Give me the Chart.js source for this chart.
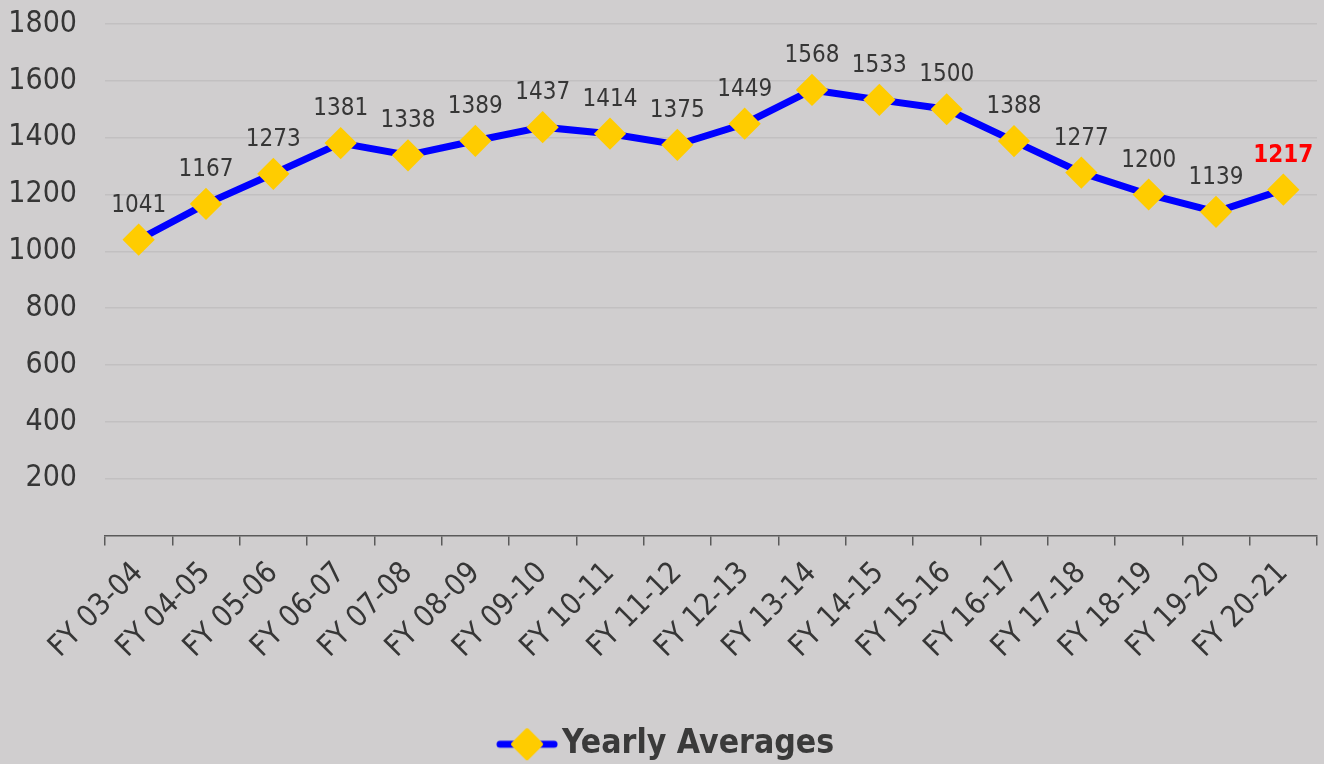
<!DOCTYPE html>
<html>
<head>
<meta charset="utf-8">
<script src="https://cdn.jsdelivr.net/npm/chart.js@4.4.1/dist/chart.umd.min.js"></script>
<style>
  html, body { margin: 0; padding: 0; background: #d0cecf; }
  #wrap { width: 1324px; height: 764px; position: relative; }
</style>
</head>
<body>
<div id="wrap"><canvas id="c" width="1324" height="764"></canvas></div>
<script>
const categories = ["FY 03-04","FY 04-05","FY 05-06","FY 06-07","FY 07-08","FY 08-09","FY 09-10","FY 10-11","FY 11-12","FY 12-13","FY 13-14","FY 14-15","FY 15-16","FY 16-17","FY 17-18","FY 18-19","FY 19-20","FY 20-21"];
const yearlyAverages = [1041,1167,1273,1381,1338,1389,1437,1414,1375,1449,1568,1533,1500,1388,1277,1200,1139,1217];
const seriesName = "Yearly Averages";
const yTicks = [200,400,600,800,1000,1200,1400,1600,1800];

const FONT = "'DejaVu Sans Condensed', 'DejaVu Sans', sans-serif";
const TEXT = '#363636';
const LINE = '#0000ff';
const MARK = '#ffcc00';

// legend marker: line with diamond (drawn right of the image centre)
const legendMark = document.createElement('canvas');
legendMark.width = 88; legendMark.height = 34;
(function(){
  const g = legendMark.getContext('2d');
  const o = 26;
  g.strokeStyle = LINE; g.lineWidth = 7; g.lineCap = 'round';
  g.beginPath(); g.moveTo(o + 4, 17); g.lineTo(o + 58, 17); g.stroke();
  g.fillStyle = MARK; g.strokeStyle = MARK; g.lineJoin = 'round'; g.lineWidth = 4;
  g.beginPath(); g.moveTo(o + 31, 3); g.lineTo(o + 45, 17); g.lineTo(o + 31, 31); g.lineTo(o + 17, 17); g.closePath();
  g.fill(); g.stroke();
})();

const valueLabels = {
  id: 'valueLabels',
  afterDatasetsDraw(chart) {
    const ctx = chart.ctx;
    const meta = chart.getDatasetMeta(0);
    ctx.save();
    ctx.textAlign = 'center';
    ctx.textBaseline = 'alphabetic';
    meta.data.forEach((pt, i) => {
      const last = i === meta.data.length - 1;
      ctx.font = (last ? 'bold ' : '') + '24px ' + FONT;
      ctx.fillStyle = last ? '#ff0000' : TEXT;
      ctx.fillText(String(yearlyAverages[i]), pt.x, pt.y - 28);
    });
    ctx.restore();
  }
};

new Chart(document.getElementById('c'), {
  type: 'line',
  data: {
    labels: categories,
    datasets: [{
      label: seriesName,
      data: yearlyAverages,
      borderColor: LINE,
      borderWidth: 7,
      backgroundColor: MARK,
      pointStyle: 'rectRot',
      pointRadius: 14,
      pointHoverRadius: 14,
      pointBackgroundColor: MARK,
      pointBorderColor: MARK,
      pointBorderWidth: 3,
      tension: 0,
      fill: false
    }]
  },
  options: {
    responsive: false,
    animation: false,
    events: [],
    layout: { autoPadding: false, padding: { top: 24, left: 0, right: 7, bottom: -7 } },
    plugins: {
      tooltip: { enabled: false },
      legend: {
        position: 'bottom',
        labels: {
          usePointStyle: true,
          pointStyle: legendMark,
          pointStyleWidth: 62.5,
          color: '#3a3a3a',
          font: { family: FONT, size: 33.5, weight: 'bold' },
          padding: 5,
          generateLabels(chart) {
            return [{ text: seriesName, pointStyle: legendMark, fillStyle: MARK, strokeStyle: MARK, lineWidth: 0, fontColor: '#3a3a3a', datasetIndex: 0, hidden: false }];
          }
        }
      }
    },
    scales: {
      x: {
        offset: true,
        afterFit(scale) { scale.paddingLeft = 0; scale.paddingRight = 0; scale.height = 187; },
        grid: { display: true, drawOnChartArea: false, drawTicks: true, tickLength: 10, color: '#5a5a5a', offset: true, lineWidth: 1.5 },
        border: { display: true, color: '#5a5a5a', width: 1.5 },
        ticks: { color: TEXT, font: { family: FONT, size: 30 }, minRotation: 45, maxRotation: 45, padding: 10, autoSkip: false }
      },
      y: {
        min: 0, max: 1800,
        afterBuildTicks(scale) { scale.ticks = [0].concat(yTicks).map(v => ({ value: v })); },
        afterFit(scale) { scale.width = 105; scale.paddingTop = 0; scale.paddingBottom = 0; },
        grid: { color: ctx => ctx.tick && ctx.tick.value === 0 ? 'rgba(0,0,0,0)' : '#c2c0c1', lineWidth: 1.5, drawTicks: false },
        border: { display: false },
        ticks: { color: TEXT, font: { family: FONT, size: 30 }, padding: 28, callback: v => v === 0 ? '' : String(v) }
      }
    }
  },
  plugins: [valueLabels]
});
</script>
</body>
</html>
